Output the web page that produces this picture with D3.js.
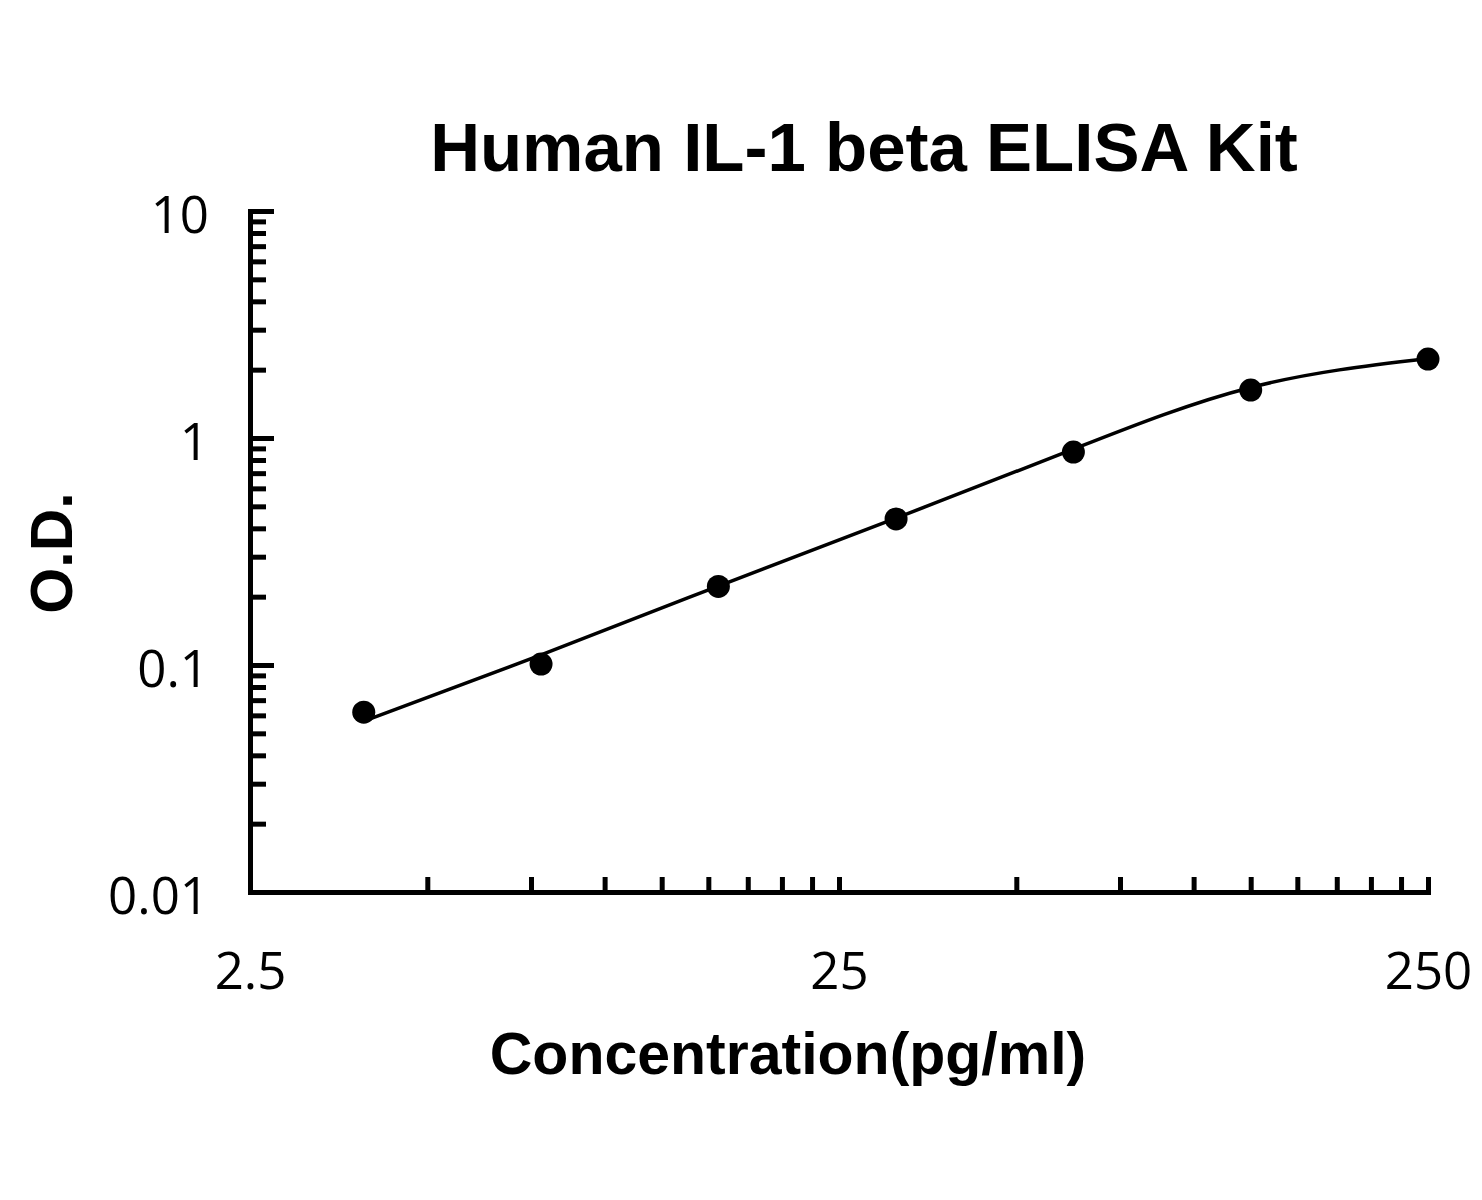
<!DOCTYPE html>
<html>
<head>
<meta charset="utf-8">
<script src="https://cdn.jsdelivr.net/npm/d3@7"></script>
<style>
  body { margin: 0; background: #fff; }
  .tick-label text { font-family: "Open Sans", sans-serif; font-size: 51px; fill: #000; }
  .title { font-family: "Liberation Sans", Arial, sans-serif; font-weight: bold; fill: #000; }
</style>
</head>
<body>
<div id="chart"></div>
<script>
// standard points (pg/ml vs O.D.)
var concentration = [3.9, 7.8, 15.6, 31.25, 62.5, 125, 250];
var od            = [0.062, 0.101, 0.222, 0.44, 0.867, 1.627, 2.228];

// fitted curve
var fitConc = [3.9, 7.8, 15.6, 31.25, 62.5, 125, 250];
var fitOd   = [0.0566, 0.1107, 0.2228, 0.444, 0.893, 1.67, 2.24];

// ticks
var xMajor = [2.5, 25, 250];
var xMinor = [5, 7.5, 10, 12.5, 15, 17.5, 20, 22.5, 25, 50, 75, 100, 125, 150, 175, 200, 225, 250];
var yMajor = [0.01, 0.1, 1, 10];
var yMinor = [0.02, 0.03, 0.04, 0.05, 0.06, 0.07, 0.08, 0.09,
              0.2, 0.3, 0.4, 0.5, 0.6, 0.7, 0.8, 0.9,
              2, 3, 4, 5, 6, 7, 8, 9];

chart();

function chart() {
  var svg = d3.select("#chart")
              .append("svg")
              .attr("width", 1482)
              .attr("height", 1200);

  svg.append("rect").attr("width", 1482).attr("height", 1200).attr("fill", "#fff");

  var x = d3.scaleLog().domain([2.5, 250]).range([250, 1428]),
      y = d3.scaleLog().domain([0.01, 10]).range([892, 211]);

  // y axis: line + minor ticks to the right
  svg.append("g")
      .attr("transform", "translate(" + x(2.5) + ",0)")
      .call(d3.axisRight(y).tickValues(yMinor).tickSize(16).tickSizeOuter(0).tickFormat(""));
  svg.append("g")
      .attr("transform", "translate(" + x(2.5) + ",0)")
      .call(d3.axisRight(y).tickValues(yMajor.slice(1)).tickSize(24).tickSizeOuter(0).tickFormat(""))
      .select(".domain").remove();

  // y labels
  var gyl = svg.append("g")
      .attr("class", "tick-label")
      .attr("transform", "translate(" + x(2.5) + ",0)")
      .call(d3.axisLeft(y).tickValues(yMajor).tickSize(0).tickPadding(41)
              .tickFormat(function(d) { return d >= 1 ? d3.format("d")(d) : String(d); }));
  gyl.select(".domain").remove();
  gyl.selectAll("text").attr("dy", "0.42em").attr("font-family", null).attr("font-size", null);

  // x axis: line + ticks pointing up
  svg.append("g")
      .attr("transform", "translate(0," + y(0.01) + ")")
      .call(d3.axisTop(x).tickValues(xMinor).tickSize(15).tickSizeOuter(0).tickFormat(""));

  var gxl = svg.append("g")
      .attr("class", "tick-label")
      .attr("transform", "translate(0," + y(0.01) + ")")
      .call(d3.axisBottom(x).tickValues(xMajor).tickSize(0).tickPadding(0)
              .tickFormat(function(d) { return String(d); }));
  gxl.select(".domain").remove();
  gxl.selectAll("text").attr("y", 97).attr("dy", null).attr("font-family", null).attr("font-size", null);

  svg.selectAll(".domain")
      .attr("stroke", "#000")
      .attr("stroke-width", 5)
      .attr("stroke-linecap", "square");
  svg.selectAll(".tick line")
      .attr("stroke", "#000")
      .attr("stroke-width", 5);

  // fitted curve
  var line = d3.line()
      .x(function(d) { return x(d[0]); })
      .y(function(d) { return y(d[1]); })
      .curve(d3.curveNatural);

  svg.append("path")
      .datum(d3.zip(fitConc, fitOd))
      .attr("fill", "none")
      .attr("stroke", "#000")
      .attr("stroke-width", 3.5)
      .attr("d", line);

  // points
  svg.selectAll(".dot")
    .data(d3.zip(concentration, od))
    .enter().append("circle")
      .attr("class", "dot")
      .attr("cx", function(d) { return x(d[0]); })
      .attr("cy", function(d) { return y(d[1]); })
      .attr("r", 11.5)
      .attr("fill", "#000");

  // titles
  svg.append("text")
      .attr("class", "title")
      .attr("x", 864)
      .attr("y", 171)
      .attr("text-anchor", "middle")
      .attr("font-size", 69)
      .text("Human IL-1 beta ELISA Kit");

  svg.append("text")
      .attr("class", "title")
      .attr("x", 788)
      .attr("y", 1074)
      .attr("text-anchor", "middle")
      .attr("font-size", 59)
      .text("Concentration(pg/ml)");

  svg.append("text")
      .attr("class", "title")
      .attr("text-anchor", "middle")
      .attr("font-size", 59)
      .attr("transform", "translate(72,553)rotate(-90)")
      .text("O.D.");
}
</script>
</body>
</html>
